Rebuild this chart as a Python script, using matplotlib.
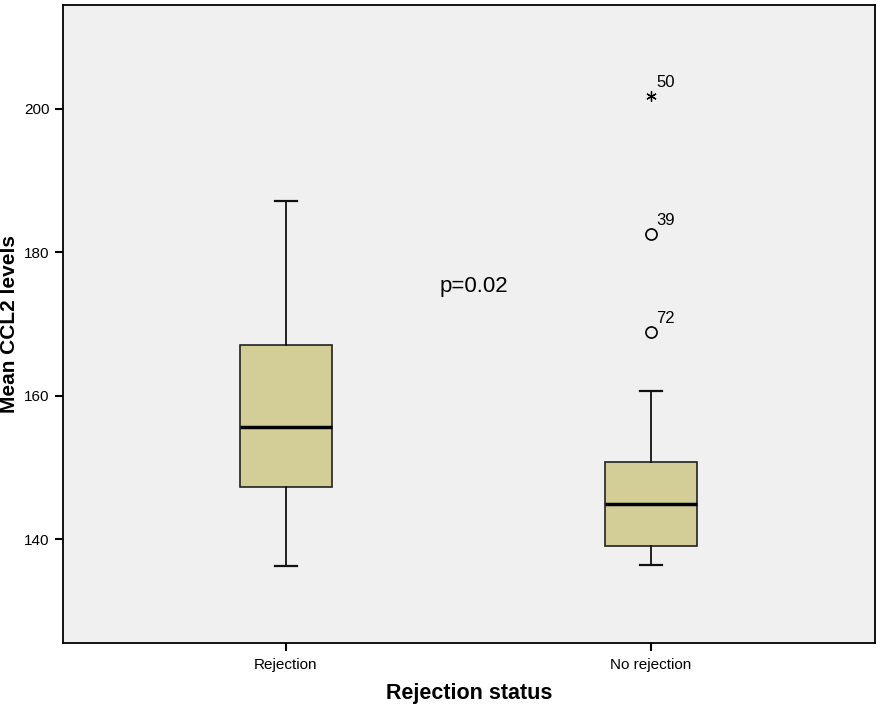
import matplotlib
matplotlib.use("Agg")
import matplotlib.pyplot as plt

plt.rcParams['font.family'] = ['Liberation Sans', 'DejaVu Sans']

# values
groups = ["Rejection", "No rejection"]
whisker_low = [136.2, 136.4]
q1 = [147.3, 139.0]
medians = [155.6, 144.9]
q3 = [167.1, 150.7]
whisker_high = [187.2, 160.7]

outlier_values = [168.9, 182.6]
outlier_ids = ["72", "39"]
extreme_values = [201.8]
extreme_ids = ["50"]

box_color = "#D3CE97"
bg_color = "#F0F0F0"

fig = plt.figure(figsize=(8.77, 7.06), dpi=100)
ax = fig.add_axes([0.0718, 0.0892, 0.9259, 0.9037])
ax.set_facecolor(bg_color)

stats = []
for i, name in enumerate(groups):
    stats.append({
        "label": name,
        "whislo": whisker_low[i],
        "q1": q1[i],
        "med": medians[i],
        "q3": q3[i],
        "whishi": whisker_high[i],
        "fliers": [],
    })

ax.bxp(stats, positions=[1, 2], widths=0.252, patch_artist=True,
       showfliers=False, capwidths=0.06,
       boxprops=dict(facecolor=box_color, edgecolor="#222222", linewidth=1.2),
       medianprops=dict(color="black", linewidth=2.5),
       whiskerprops=dict(color="#111111", linewidth=1.3),
       capprops=dict(color="#111111", linewidth=1.6))

# outliers and extremes of the "No rejection" group
ax.plot([2] * len(outlier_values), outlier_values, linestyle="none", marker="o",
        markersize=8, markerfacecolor="none", markeredgecolor="black",
        markeredgewidth=1.2)
ax.plot([2] * len(extreme_values), extreme_values, linestyle="none",
        marker=(6, 2, 0), markersize=7.5, color="black", markeredgewidth=0.9)
for v, lab in zip(outlier_values + extreme_values, outlier_ids + extreme_ids):
    ax.annotate(lab, (2, v), xytext=(4, 4), textcoords="offset points",
                fontsize=12, ha="left", va="bottom")

ax.text(1.515, 175.3, "p=0.02", fontsize=16, ha="center", va="center")

ax.set_xlim(0.389, 2.614)
ax.set_ylim(125.5, 214.5)
ax.set_yticks([140, 160, 180, 200])
ax.set_xticks([1, 2])
ax.set_xticklabels(groups)
ax.tick_params(axis="both", direction="out", length=6, width=1.5,
               labelsize=11, colors="black")
ax.tick_params(axis="x", pad=5)
for s in ax.spines.values():
    s.set_linewidth(1.3)

ax.set_xlabel("Rejection status", fontsize=15.5, fontweight="bold", labelpad=8)
ax.set_ylabel("Mean CCL2 levels", fontsize=15, fontweight="bold", va="center")
ax.yaxis.set_label_coords(-0.066, 0.5)

fig.savefig("out.png", dpi=100)
